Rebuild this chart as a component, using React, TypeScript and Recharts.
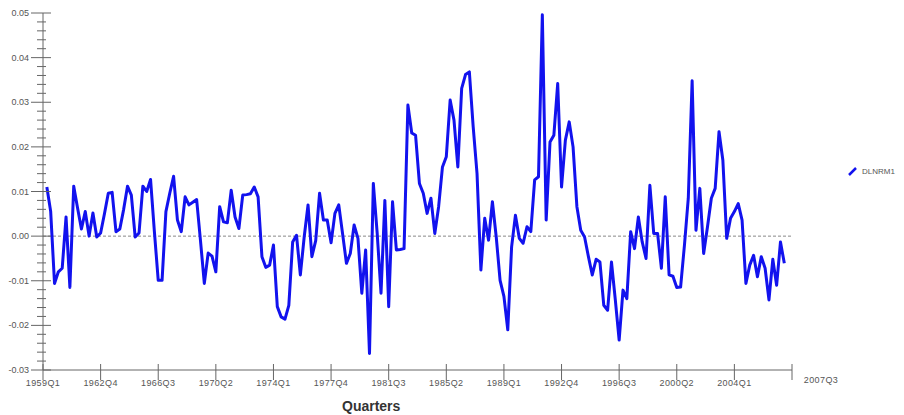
import { LineChart, Line, XAxis, YAxis, ReferenceLine, Legend } from 'recharts';

// quarter index 0 = 1959Q1
const quarterTicks = [0, 15, 30, 45, 60, 75, 90, 105, 120, 135, 150, 165, 180, 195];
const quarterLabels = [
  '1959Q1', '1962Q4', '1966Q3', '1970Q2', '1974Q1', '1977Q4', '1981Q3',
  '1985Q2', '1989Q1', '1992Q4', '1996Q3', '2000Q2', '2004Q1', '2007Q3',
];
const yMajor = [-0.03, -0.02, -0.01, 0, 0.01, 0.02, 0.03, 0.04, 0.05];
const yTicks = Array.from({ length: 41 }, (_, k) => (k * 2 - 30) / 1000);

// DLNRM1, quarterly, starting 1959Q2
const dlnrm1 = [
  0.011, 0.0055, -0.0106, -0.008, -0.0072, 0.0043, -0.0115, 0.0112, 0.0063, 0.0016,
  0.0055, 0.0, 0.0052, -0.0002, 0.0007, 0.005, 0.0096, 0.0098, 0.001, 0.0016,
  0.006, 0.0112, 0.0092, -0.0002, 0.0007, 0.0112, 0.01, 0.0127, 0.001, -0.0099,
  -0.0099, 0.0055, 0.0096, 0.0134, 0.0036, 0.001, 0.0088, 0.007, 0.0076, 0.0082,
  -0.001, -0.0106, -0.0038, -0.0045, -0.008, 0.0066, 0.0032, 0.003, 0.0103, 0.0043,
  0.0017, 0.0092, 0.0093, 0.0095, 0.011, 0.0088, -0.0046, -0.007, -0.0065, -0.002,
  -0.0158, -0.0181, -0.0186, -0.0155, -0.0013, 0.0002, -0.0087, -0.0002, 0.007, -0.0046,
  -0.001, 0.0096, 0.0036, 0.0036, -0.0015, 0.0051, 0.007, 0.0005, -0.0061, -0.0039,
  0.0025, -0.0005, -0.0128, -0.0031, -0.0263, 0.0118, 0.0007, -0.0128, 0.008, -0.0158,
  0.0077, -0.0031, -0.003, -0.0028, 0.0294, 0.0231, 0.0226, 0.0118, 0.0096, 0.0051,
  0.0085, 0.0006, 0.0066, 0.0155, 0.0178, 0.0305, 0.026, 0.0155, 0.0331, 0.0362,
  0.0368, 0.0245, 0.014, -0.0076, 0.004, -0.0009, 0.0077, -0.0002, -0.0099, -0.0135,
  -0.021, -0.0024, 0.0047, -0.0005, -0.0016, 0.0021, 0.001, 0.0126, 0.0133, 0.0496,
  0.0036, 0.0211, 0.0226, 0.0342, 0.011, 0.0215, 0.0256, 0.02, 0.0066, 0.0013,
  -0.0002, -0.0046, -0.0087, -0.0052, -0.0058, -0.0155, -0.0166, -0.0058, -0.0143, -0.0233,
  -0.0121, -0.014, 0.001, -0.0028, 0.0043, -0.0013, -0.005, 0.0114, 0.0006, 0.0006,
  -0.0072, 0.0088, -0.0087, -0.009, -0.0115, -0.0114, -0.002, 0.0085, 0.0348, 0.0013,
  0.0107, -0.0039, 0.0021, 0.0085, 0.0107, 0.0234, 0.017, -0.0005, 0.004, 0.0055,
  0.0073, 0.0036, -0.0106, -0.0065, -0.0043, -0.0091, -0.0046, -0.0072, -0.0143, -0.0052,
  -0.011, -0.0013, -0.0061,
];

const data = dlnrm1.map((v, i) => ({ t: i + 1, v }));

const FONT = '"Liberation Sans", Arial, sans-serif';
const AXIS = '#666';
const BLUE = '#1212ee';

function YTick({ x, y, payload }: any) {
  const major = yMajor.some((m) => Math.abs(m - payload.value) < 1e-6);
  return (
    <g>
      <line x1={major ? x - 10 : x - 4} x2={major ? x + 10 : x + 5} y1={y} y2={y} stroke={AXIS} />
      {major && (
        <text x={x - 12} y={y} dy={3} textAnchor="end" fontSize={9} fill="#555" fontFamily={FONT}>
          {payload.value.toFixed(2)}
        </text>
      )}
    </g>
  );
}

function XTick({ x, y, payload }: any) {
  const idx = quarterTicks.indexOf(payload.value);
  const last = idx === quarterTicks.length - 1;
  return (
    <g>
      <line x1={x} x2={x} y1={y - 8} y2={y + 8} stroke={AXIS} />
      <text
        x={last ? x + 29 : x}
        y={last ? y + 11 : y + 14}
        textAnchor="middle"
        fontSize={9}
        fill="#555"
        fontFamily={FONT}
        letterSpacing={0.4}
      >
        {quarterLabels[idx]}
      </text>
    </g>
  );
}

function LegendBox() {
  return (
    <div style={{ display: 'flex', alignItems: 'center', fontFamily: FONT, fontSize: 8, color: '#555' }}>
      <svg width={9} height={9} style={{ marginRight: 5 }}>
        <line x1={1} y1={8} x2={8} y2={1} stroke={BLUE} strokeWidth={2.5} />
      </svg>
      DLNRM1
    </div>
  );
}

export default function App() {
  return (
    <div style={{ position: 'absolute', left: 0, top: 0, background: '#fff' }}>
      <LineChart width={904} height={415} data={data} margin={{ top: 13, right: 112, left: 0, bottom: 0 }}>
        <XAxis
          dataKey="t"
          type="number"
          domain={[0, 195]}
          ticks={quarterTicks}
          interval={0}
          height={45}
          tickSize={0}
          tickLine={false}
          axisLine={{ stroke: AXIS }}
          tick={<XTick />}
          label={{
            value: 'Quarters',
            position: 'insideBottomLeft',
            dx: 295,
            offset: 4,
            fontSize: 14,
            fontWeight: 'bold',
            fill: '#333',
            fontFamily: FONT,
          }}
        />
        <YAxis
          type="number"
          domain={[-0.03, 0.05]}
          ticks={yTicks}
          interval={0}
          width={43}
          tickSize={0}
          tickLine={false}
          axisLine={{ stroke: AXIS }}
          tick={<YTick />}
        />
        <ReferenceLine y={0} stroke="#888" strokeDasharray="3 2" />
        <Legend
          align="center"
          verticalAlign="middle"
          layout="horizontal"
          content={<LegendBox />}
          wrapperStyle={{ left: 848, top: 167, width: 60, height: 12 }}
        />
        <Line
          type="linear"
          dataKey="v"
          name="DLNRM1"
          stroke={BLUE}
          strokeWidth={3}
          dot={false}
          strokeLinejoin="round"
          isAnimationActive={false}
        />
      </LineChart>
    </div>
  );
}
